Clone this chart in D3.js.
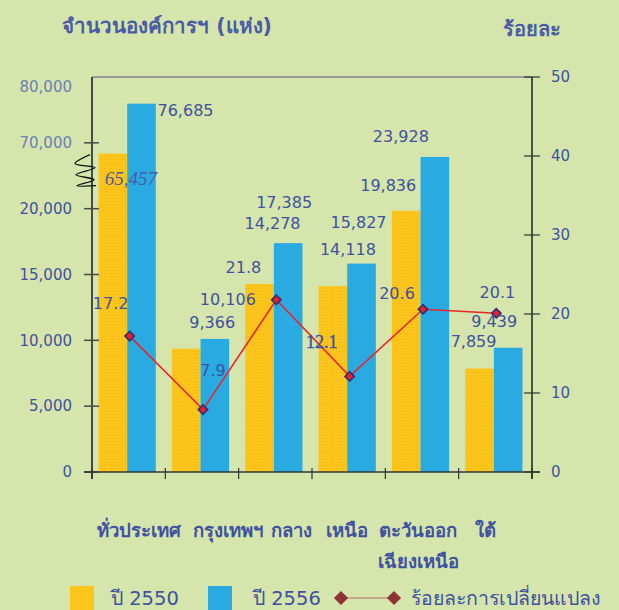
<!DOCTYPE html>
<html>
<head>
<meta charset="utf-8">
<script src="https://cdn.jsdelivr.net/npm/d3@7"></script>
<style>
    body { margin: 0; background: #d5e5ab; }
    svg { display: block; font-family: Tahoma, "DejaVu Sans", "Noto Sans", sans-serif; }
</style>
</head>
<body>
<div id="chart"></div>
<script>
// data
const categories = ["ทั่วประเทศ", "กรุงเทพฯ", "กลาง", "เหนือ", "ตะวันออก\nเฉียงเหนือ", "ใต้"];
const orgs2550 = [65457, 9366, 14278, 14118, 19836, 7859];
const orgs2556 = [76685, 10106, 17385, 15827, 23928, 9439];
const pctChange = [17.2, 7.9, 21.8, 12.1, 20.6, 20.1];
const leftTicks = [0, 5000, 10000, 15000, 20000, 70000, 80000];
const rightTicks = [0, 10, 20, 30, 40, 50];
const seriesNames = ["ปี 2550", "ปี 2556", "ร้อยละการเปลี่ยนแปลง"];

// label nudges (layout only): [dx from bar/point centre, dy from bar top/point]
const nudge2550 = [[18, 25], [26, -26], [13, -61], [15, -37], [-18, -25], [-6, -27]];
const nudge2556 = [[44, 7], [13, -40], [-4, -41], [-3, -41], [-34, -21], [-14, -26]];
const nudgePct = [[-19, -33], [10, -39], [-33, -32], [-28, -35], [-26, -16], [1, -21]];
// spaces between the category names, which are set like one line of text
const catGaps = [12, 8, 14, 11, 18];

const W = 619, H = 610;
const plot = {left: 92, right: 532, top: 77, bottom: 472};
const blueText = "#3f52a2";
const serif = "'Liberation Serif', 'DejaVu Serif', serif";

const svg = d3.select("#chart").append("svg")
    .attr("width", W)
    .attr("height", H);

// dotted texture of the yellow bars
const defs = svg.append("defs");
const pat = defs.append("pattern")
    .attr("id", "dots")
    .attr("width", 3).attr("height", 3)
    .attr("patternUnits", "userSpaceOnUse");
pat.append("rect").attr("width", 3).attr("height", 3).attr("fill", "#fcc51c");
pat.append("rect").attr("width", 1).attr("height", 1).attr("fill", "#f2b512");

// scales
const x = d3.scaleBand().domain(categories).range([plot.left, plot.right]);
const bw = x.bandwidth();
const xs = d3.scaleBand().domain([0, 1]).range([bw * 0.09, bw * 0.87]);

// lower part of the axis is linear on 0..30000, the top is a broken segment
const lin = d3.scaleLinear().domain([0, 30000]).range([plot.bottom, plot.top]);
const y = d3.scaleLinear()
    .domain([0, 24000, 65000, 70000, 80000])
    .range([lin(0), lin(24000), lin(24100), lin(25000), lin(29450)]);
const yR = d3.scaleLinear().domain([0, 50]).range([plot.bottom, plot.top]);

// top border
svg.append("line")
    .attr("x1", plot.left).attr("x2", plot.right)
    .attr("y1", plot.top).attr("y2", plot.top)
    .attr("stroke", "#9a9a9a").attr("stroke-width", 2);

// bars
const groups = svg.selectAll(".cat")
    .data(categories)
    .enter().append("g")
    .attr("class", "cat")
    .attr("transform", d => `translate(${x(d)},0)`);

groups.append("rect")
    .attr("x", xs(0))
    .attr("width", xs.bandwidth())
    .attr("y", (d, i) => y(orgs2550[i]))
    .attr("height", (d, i) => y(0) - y(orgs2550[i]))
    .attr("fill", "url(#dots)");

groups.append("rect")
    .attr("x", xs(1))
    .attr("width", xs.bandwidth())
    .attr("y", (d, i) => y(orgs2556[i]))
    .attr("height", (d, i) => y(0) - y(orgs2556[i]))
    .attr("fill", "#29abe2");

// left axis
const fmt = d3.format(",");
const yAxis = svg.append("g").attr("transform", `translate(${plot.left},0)`);
yAxis.append("line")
    .attr("y1", plot.top).attr("y2", plot.bottom + 7)
    .attr("stroke", "#4a4a4a").attr("stroke-width", 2);
yAxis.selectAll(".tk").data(leftTicks.filter(d => d < 80000))
    .enter().append("line")
    .attr("x1", -8).attr("x2", 7)
    .attr("y1", d => y(d)).attr("y2", d => y(d))
    .attr("stroke", "#4a4a4a").attr("stroke-width", 1.5);
yAxis.selectAll(".tl").data(leftTicks)
    .enter().append("text")
    .attr("x", -20)
    .attr("y", d => y(d) + (d === 80000 ? 3 : 0))
    .attr("dy", "0.35em")
    .attr("text-anchor", "end")
    .attr("font-size", 15)
    .attr("fill", d => d > 20000 ? "#6c80b4" : blueText)
    .text(d => fmt(d));

// axis break squiggle
const brkY = (y(20000) + y(65000)) / 2 - 10;
const squiggle = [[-2, -17], [-17, -8], [3, -4], [-16, 3], [2, 8], [-15, 14], [4, 14]];
svg.append("path")
    .attr("d", d3.line().curve(d3.curveCatmullRom)(squiggle.map(p => [plot.left + p[0], brkY + p[1]])))
    .attr("fill", "none")
    .attr("stroke", "#111")
    .attr("stroke-width", 1.3);

// bottom axis
const xAxis = svg.append("g");
xAxis.append("line")
    .attr("x1", plot.left - 8).attr("x2", plot.right + 8)
    .attr("y1", plot.bottom).attr("y2", plot.bottom)
    .attr("stroke", "#333").attr("stroke-width", 1.5);
xAxis.selectAll(".tk").data(categories.concat(["end"]))
    .enter().append("line")
    .attr("x1", d => d === "end" ? plot.right : x(d))
    .attr("x2", d => d === "end" ? plot.right : x(d))
    .attr("y1", plot.bottom - 4).attr("y2", plot.bottom + 7)
    .attr("stroke", "#333").attr("stroke-width", 1.2);

// right axis
const rAxis = svg.append("g").attr("transform", `translate(${plot.right},0)`);
rAxis.append("line")
    .attr("y1", plot.top).attr("y2", plot.bottom + 7)
    .attr("stroke", "#222").attr("stroke-width", 1.5);
rAxis.selectAll(".tk").data(rightTicks)
    .enter().append("line")
    .attr("x1", -8).attr("x2", 8)
    .attr("y1", d => yR(d)).attr("y2", d => yR(d))
    .attr("stroke", "#333").attr("stroke-width", 1.2);
rAxis.selectAll(".tl").data(rightTicks)
    .enter().append("text")
    .attr("x", 19)
    .attr("y", d => yR(d))
    .attr("dy", "0.35em")
    .attr("font-size", 15)
    .attr("fill", blueText)
    .text(d => d);

// percent line
const px = (d, i) => x(categories[i]) + bw / 2 + 1;
const line = d3.line().x((d, i) => px(d, i)).y(d => yR(d));
svg.append("path")
    .attr("d", line(pctChange))
    .attr("fill", "none")
    .attr("stroke", "#e8262b")
    .attr("stroke-width", 1.6);
svg.selectAll(".pt").data(pctChange)
    .enter().append("path")
    .attr("transform", (d, i) => `translate(${px(d, i)},${yR(d)}) rotate(45)`)
    .attr("d", d3.symbol().type(d3.symbolSquare).size(44))
    .attr("fill", "#e8202a")
    .attr("stroke", "#2c2f7c")
    .attr("stroke-width", 1.6);

// value labels
const labels = svg.append("g").attr("font-size", 16).attr("fill", blueText);
labels.selectAll(".l1").data(orgs2550)
    .enter().append("text")
    .attr("x", (d, i) => x(categories[i]) + xs(0) + xs.bandwidth() / 2 + nudge2550[i][0])
    .attr("y", (d, i) => y(d) + nudge2550[i][1])
    .attr("dy", "0.35em")
    .attr("text-anchor", "middle")
    .style("font-family", (d, i) => i === 0 ? serif : null)
    .style("font-style", (d, i) => i === 0 ? "italic" : null)
    .style("font-size", (d, i) => i === 0 ? "19px" : null)
    .attr("fill", (d, i) => i === 0 ? "#4b58a8" : blueText)
    .text(d => fmt(d));
labels.selectAll(".l2").data(orgs2556)
    .enter().append("text")
    .attr("x", (d, i) => x(categories[i]) + xs(1) + xs.bandwidth() / 2 + nudge2556[i][0])
    .attr("y", (d, i) => y(d) + nudge2556[i][1])
    .attr("dy", "0.35em")
    .attr("text-anchor", "middle")
    .text(d => fmt(d));
labels.selectAll(".l3").data(pctChange)
    .enter().append("text")
    .attr("x", (d, i) => px(d, i) + nudgePct[i][0])
    .attr("y", (d, i) => yR(d) + nudgePct[i][1])
    .attr("dy", "0.35em")
    .attr("text-anchor", "middle")
    .style("font-family", (d, i) => i === 3 ? serif : null)
    .style("font-size", (d, i) => i === 3 ? "18px" : null)
    .attr("stroke", (d, i) => i === 3 ? blueText : null)
    .attr("stroke-width", (d, i) => i === 3 ? 0.4 : null)
    .text(d => d.toFixed(1));

// axis titles
svg.append("text")
    .attr("x", 62).attr("y", 33)
    .attr("font-size", 20.5).attr("font-weight", "bold")
    .attr("fill", "#4a5aa6")
    .text("จำนวนองค์การฯ (แห่ง)");
svg.append("text")
    .attr("x", 503).attr("y", 36)
    .attr("font-size", 20).attr("font-weight", "bold")
    .attr("fill", "#4a5aa6")
    .text("ร้อยละ");

// category labels, set one after another like a line of text
const catG = svg.append("g")
    .attr("font-size", 18.5).attr("font-weight", "bold")
    .attr("fill", blueText);
let cursor = plot.left + 5;
categories.forEach((c, i) => {
    const parts = c.split("\n");
    const t = catG.append("text").attr("x", cursor).attr("y", 537).text(parts[0]);
    const w = t.node().getComputedTextLength();
    if (parts.length > 1) {
        catG.append("text")
            .attr("x", cursor + w / 2).attr("y", 568)
            .attr("text-anchor", "middle")
            .text(parts[1]);
    }
    cursor += w + (catGaps[i] || 0);
});

// legend
const leg = svg.append("g").attr("font-size", 19.5).attr("fill", blueText);
leg.append("rect").attr("x", 70).attr("y", 586).attr("width", 24).attr("height", 26).attr("fill", "#fcc51c");
leg.append("text").attr("x", 111).attr("y", 605).text(seriesNames[0]);
leg.append("rect").attr("x", 208).attr("y", 586).attr("width", 24).attr("height", 26).attr("fill", "#29abe2");
leg.append("text").attr("x", 253).attr("y", 605).text(seriesNames[1]);
leg.append("line")
    .attr("x1", 341).attr("x2", 394).attr("y1", 598).attr("y2", 598)
    .attr("stroke", "#c4a98a").attr("stroke-width", 2);
[341, 394].forEach(cx => {
    leg.append("path")
        .attr("transform", `translate(${cx},598) rotate(45)`)
        .attr("d", d3.symbol().type(d3.symbolSquare).size(100))
        .attr("fill", "#8f3234");
});
leg.append("text").attr("x", 411).attr("y", 605).text(seriesNames[2]);
</script>
</body>
</html>
